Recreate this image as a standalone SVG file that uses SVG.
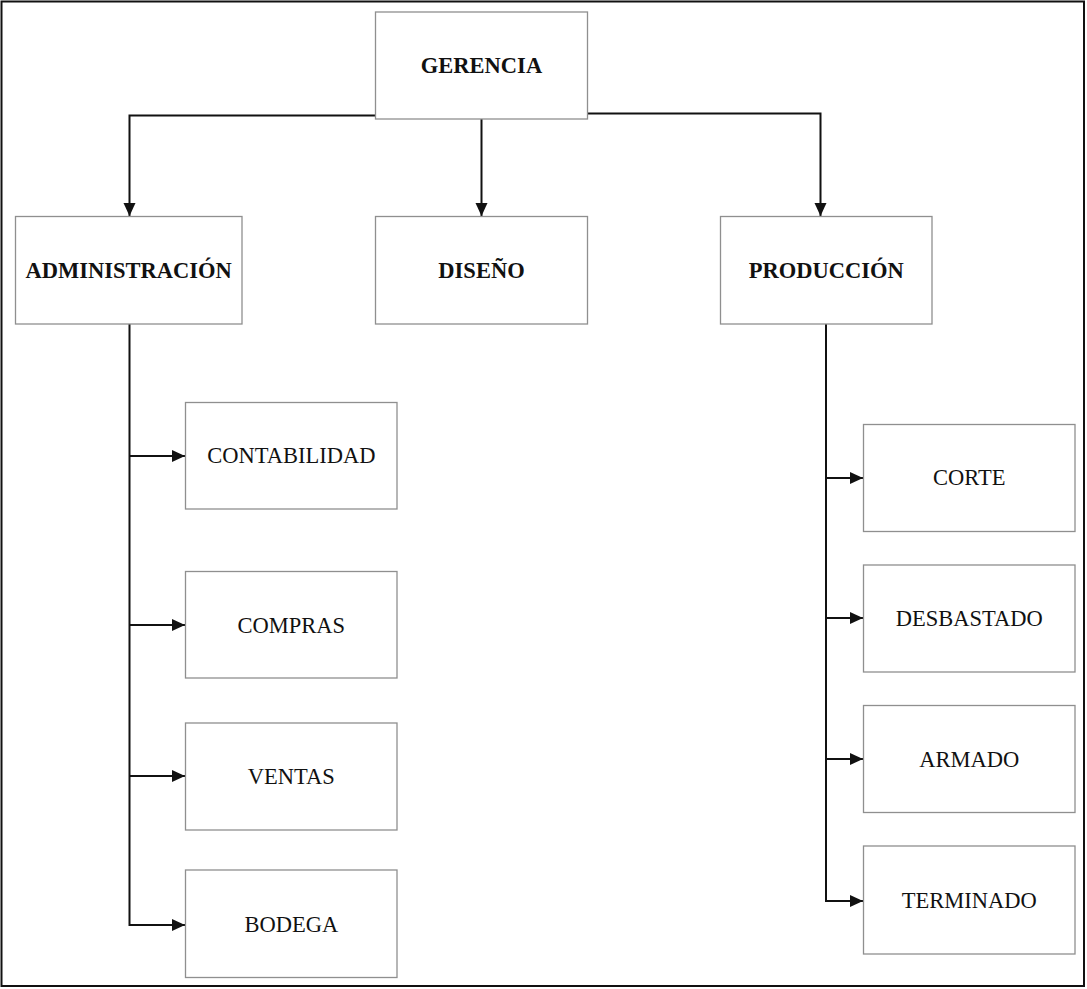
<svg xmlns="http://www.w3.org/2000/svg" width="1087" height="989" viewBox="0 0 1087 989">
<style>
.box{fill:#fff;stroke:#8f8f8f;stroke-width:1.3}
.t{font-family:"Liberation Serif","Times New Roman",serif;font-size:22.5px;fill:#111;text-anchor:middle}
.b{font-weight:bold}
.c{fill:none;stroke:#111;stroke-width:2}
</style>
<defs>
<marker id="ah" markerUnits="userSpaceOnUse" markerWidth="14" markerHeight="14" refX="13" refY="6" orient="auto">
<path d="M0,0 L13,6 L0,12 Z" fill="#111"/>
</marker>
</defs>
<rect x="1.5" y="1.5" width="1082.5" height="984.5" fill="#fff" stroke="#111" stroke-width="2"/>
<g id="connectors">
<path class="c" d="M375,115.5 H129.5 V216" marker-end="url(#ah)"/>
<path class="c" d="M481.5,119 V216" marker-end="url(#ah)"/>
<path class="c" d="M587,113.5 H820.5 V216" marker-end="url(#ah)"/>
<path class="c" d="M129.5,324 V925 H185" marker-end="url(#ah)"/>
<path class="c" d="M129.5,456 H185" marker-end="url(#ah)"/>
<path class="c" d="M129.5,625 H185" marker-end="url(#ah)"/>
<path class="c" d="M129.5,776 H185" marker-end="url(#ah)"/>
<path class="c" d="M826,324 V901 H863" marker-end="url(#ah)"/>
<path class="c" d="M826,478 H863" marker-end="url(#ah)"/>
<path class="c" d="M826,618 H863" marker-end="url(#ah)"/>
<path class="c" d="M826,759 H863" marker-end="url(#ah)"/>
</g>
<g id="gerencia"><rect class="box" x="375.5" y="12" width="212" height="107"/><text class="t b" x="481.5" y="73">GERENCIA</text></g>
<g id="administracion"><rect class="box" x="15.5" y="216.5" width="226.5" height="107.5"/><text class="t b" x="128.7" y="278">ADMINISTRACIÓN</text></g>
<g id="diseno"><rect class="box" x="375.5" y="216.5" width="212" height="107.5"/><text class="t b" x="481.5" y="278">DISEÑO</text></g>
<g id="produccion"><rect class="box" x="720.5" y="216.5" width="211.5" height="107.5"/><text class="t b" x="826.3" y="278">PRODUCCIÓN</text></g>
<g id="contabilidad"><rect class="box" x="185.5" y="402.5" width="211.5" height="106.5"/><text class="t" x="291.3" y="463.3">CONTABILIDAD</text></g>
<g id="compras"><rect class="box" x="185.5" y="571.5" width="211.5" height="106.5"/><text class="t" x="291.3" y="632.5">COMPRAS</text></g>
<g id="ventas"><rect class="box" x="185.5" y="723" width="211.5" height="107"/><text class="t" x="291.3" y="784">VENTAS</text></g>
<g id="bodega"><rect class="box" x="185.5" y="870" width="211.5" height="107.5"/><text class="t" x="291.3" y="931.5">BODEGA</text></g>
<g id="corte"><rect class="box" x="863.5" y="424.5" width="211.5" height="107"/><text class="t" x="969.3" y="485.3">CORTE</text></g>
<g id="desbastado"><rect class="box" x="863.5" y="565" width="211.5" height="107"/><text class="t" x="969.3" y="626">DESBASTADO</text></g>
<g id="armado"><rect class="box" x="863.5" y="705.5" width="211.5" height="107"/><text class="t" x="969.3" y="766.5">ARMADO</text></g>
<g id="terminado"><rect class="box" x="863.5" y="846" width="211.5" height="108"/><text class="t" x="969.3" y="907.5">TERMINADO</text></g>
</svg>
